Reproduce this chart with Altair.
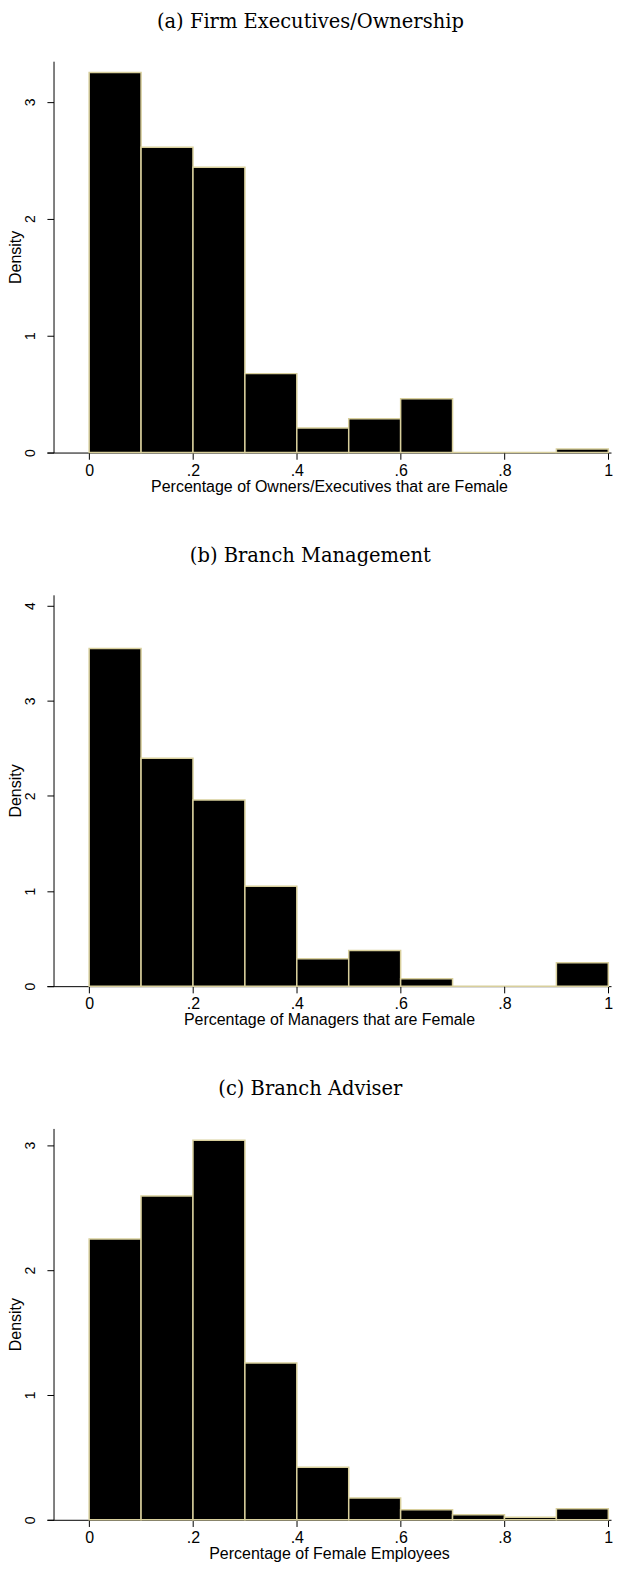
import altair as alt
import pandas as pd

bin_start = [0.0, 0.1, 0.2, 0.3, 0.4, 0.5, 0.6, 0.7, 0.8, 0.9]
bin_end = [0.1, 0.2, 0.3, 0.4, 0.5, 0.6, 0.7, 0.8, 0.9, 1.0]

dens_exec = [3.25, 2.61, 2.44, 0.675, 0.21, 0.29, 0.46, 0.0, 0.0, 0.03]
dens_mgr = [3.55, 2.395, 1.957, 1.05, 0.287, 0.375, 0.077, 0.0, 0.0, 0.245]
dens_emp = [2.248, 2.592, 3.04, 1.256, 0.42, 0.174, 0.08, 0.04, 0.02, 0.088]

titles = ["(a) Firm Executives/Ownership", "(b) Branch Management", "(c) Branch Adviser"]
xlabels = ["Percentage of Owners/Executives that are Female",
           "Percentage of Managers that are Female",
           "Percentage of Female Employees"]
ytops = [3.347, 4.114, 3.134]
yticks = [[0, 1, 2, 3], [0, 1, 2, 3, 4], [0, 1, 2, 3]]
xticks = [0, 0.2, 0.4, 0.6, 0.8, 1.0]

W = 565
H = 392
AX = -6.6  # y axis offset into the plot

def panel(dens, title, xlabel, ytop, yt):
    df = pd.DataFrame({"start": bin_start, "end": bin_end, "density": dens})
    return alt.Chart(df).mark_rect(
        fill="black", stroke="#d8cf9c", strokeWidth=1.5
    ).encode(
        x=alt.X("start:Q",
                scale=alt.Scale(domain=[-0.0813, 1.0052], nice=False, zero=False),
                axis=alt.Axis(values=xticks, title=xlabel,
                              labelExpr="datum.value == 0 ? '0' : datum.value == 1 ? '1' : replace(format(datum.value, '.1f'), '0.', '.')",
                              tickSize=6.7, labelPadding=3, titlePadding=0,
                              labelFontSize=16, titleFontSize=16,
                              labelFont="Liberation Sans", titleFont="Liberation Sans",
                              titleFontWeight="normal", grid=False,
                              domainColor="black", tickColor="black",
                              labelColor="black", titleColor="black")),
        x2="end:Q",
        y=alt.Y("density:Q",
                scale=alt.Scale(domain=[0, ytop], nice=False),
                axis=alt.Axis(values=yt, title="Density", offset=AX,
                              labelAngle=-90, labelAlign="center", labelBaseline="middle",
                              tickSize=6.6, labelPadding=16,
                              labelFontSize=14, titleFontSize=16,
                              labelFont="Liberation Sans", titleFont="Liberation Sans",
                              titleFontWeight="normal", titleBaseline="middle",
                              titleX=-37.6, titleY=H / 2,
                              grid=False, domainColor="black", tickColor="black",
                              labelColor="black", titleColor="black")),
        y2=alt.datum(0),
    ).properties(
        width=W, height=H,
        title=alt.TitleParams(title, font="DejaVu Serif", fontSize=19.5,
                              fontWeight="normal", anchor="middle", frame="bounds",
                              offset=28.5, color="black"),
    )

charts = [panel(d, t, xl, yt_, ytk) for d, t, xl, yt_, ytk in
          zip([dens_exec, dens_mgr, dens_emp], titles, xlabels, ytops, yticks)]

chart = alt.vconcat(*charts, spacing=51.5).properties(
    padding={"top": 3, "left": 0, "right": 0, "bottom": 0}
).configure(background="white").configure_view(stroke=None)

chart.save("out.html", embed_options={"renderer": "svg", "actions": False})
